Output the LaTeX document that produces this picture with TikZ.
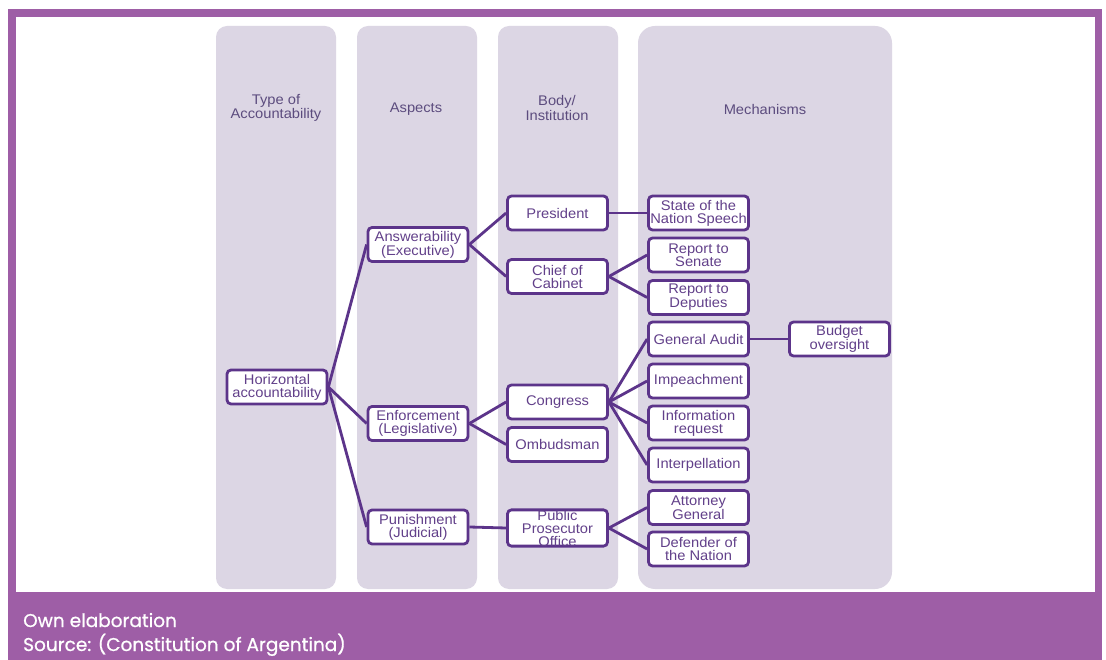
\documentclass[tikz,border=0pt]{standalone}
\usepackage{fontspec}
\setmainfont{Liberation Sans}[FakeStretch=1.05]
\newfontfamily\capfont{Poppins}[FakeBold=0.8]
\definecolor{frame}{RGB}{158,94,166}
\definecolor{colfill}{RGB}{220,214,228}
\definecolor{bord}{RGB}{92,52,138}
\definecolor{ntext}{RGB}{98,64,138}
\definecolor{htext}{RGB}{92,76,126}
\begin{document}
\begin{tikzpicture}[x=1pt,y=-1pt,
  box/.style={draw=bord, line width=2.8pt, fill=white, rounded corners=4pt,
    minimum width=100pt, minimum height=34pt, inner sep=0pt, align=center,
    text=ntext, font=\fontsize{14}{13}\selectfont},
  hdr/.style={align=center, text=htext, font=\fontsize{14}{13}\selectfont},
  col/.style={fill=colfill},
  link/.style={draw=bord, line width=2.8pt}]
\useasboundingbox (0,0) rectangle (1106,660);
% frame
\fill[frame] (8,9) rectangle (1102,660);
\fill[white] (16,17) rectangle (1095,592);
% columns
\fill[col, rounded corners=11pt] (216,26) rectangle (336,589);
\fill[col, rounded corners=11pt] (357,26) rectangle (477,589);
\fill[col, rounded corners=11pt] (498,26) rectangle (618,589);
\fill[col, rounded corners=17pt] (638,26) rectangle (892,589);
% headers
\node[hdr] (h1) at (276,108) {Type of\\Accountability};
\node[hdr] (h2) at (416,109) {Aspects};
\node[hdr] (h3) at (557,108) {Body/\\Institution};
\node[hdr] (h4) at (765,109) {Mechanisms};
% nodes
\node[box] (ha) at (277,387) {Horizontal\\accountability};
\node[box] (ans) at (418,244.5) {Answerability\\(Executive)};
\node[box] (enf) at (418,423.5) {Enforcement\\(Legislative)};
\node[box] (pun) at (418,527) {Punishment\\(Judicial)};
\node[box] (pres) at (557.5,213) {President};
\node[box] (coc) at (557.5,276.5) {Chief of\\Cabinet};
\node[box] (cong) at (557.5,402) {Congress};
\node[box] (omb) at (557.5,444.5) {Ombudsman};
\node[box] (ppo) at (557.5,528) {Public\\Prosecutor\\Office};
\node[box] (sns) at (698.5,213) {State of the\\Nation Speech};
\node[box] (rs) at (698.5,255) {Report to\\Senate};
\node[box] (rd) at (698.5,297.5) {Report to\\Deputies};
\node[box] (ga) at (698.5,339) {General Audit};
\node[box] (imp) at (698.5,381) {Impeachment};
\node[box] (ir) at (698.5,423) {Information\\request};
\node[box] (int) at (698.5,465) {Interpellation};
\node[box] (ag) at (698.5,507.5) {Attorney\\General};
\node[box] (dn) at (698.5,549) {Defender of\\the Nation};
\node[box] (bo) at (839.5,339) {Budget\\oversight};
% links
\foreach \a/\b in {ha/ans,ha/enf,ha/pun,ans/pres,ans/coc,enf/cong,enf/omb,pun/ppo,
  pres/sns,coc/rs,coc/rd,cong/ga,cong/imp,cong/ir,cong/int,ppo/ag,ppo/dn,ga/bo}
  \draw[link] (\a.east) -- (\b.west);
% caption
\node[anchor=base west, inner sep=0pt, text=white, font=\capfont\fontsize{18.5}{24}\selectfont] (c1) at (23,627) {Own elaboration};
\node[anchor=base west, inner sep=0pt, text=white, font=\capfont\fontsize{18.5}{24}\selectfont] (c2) at (23,651) {Source: (Constitution of Argentina)};
\end{tikzpicture}
\end{document}
